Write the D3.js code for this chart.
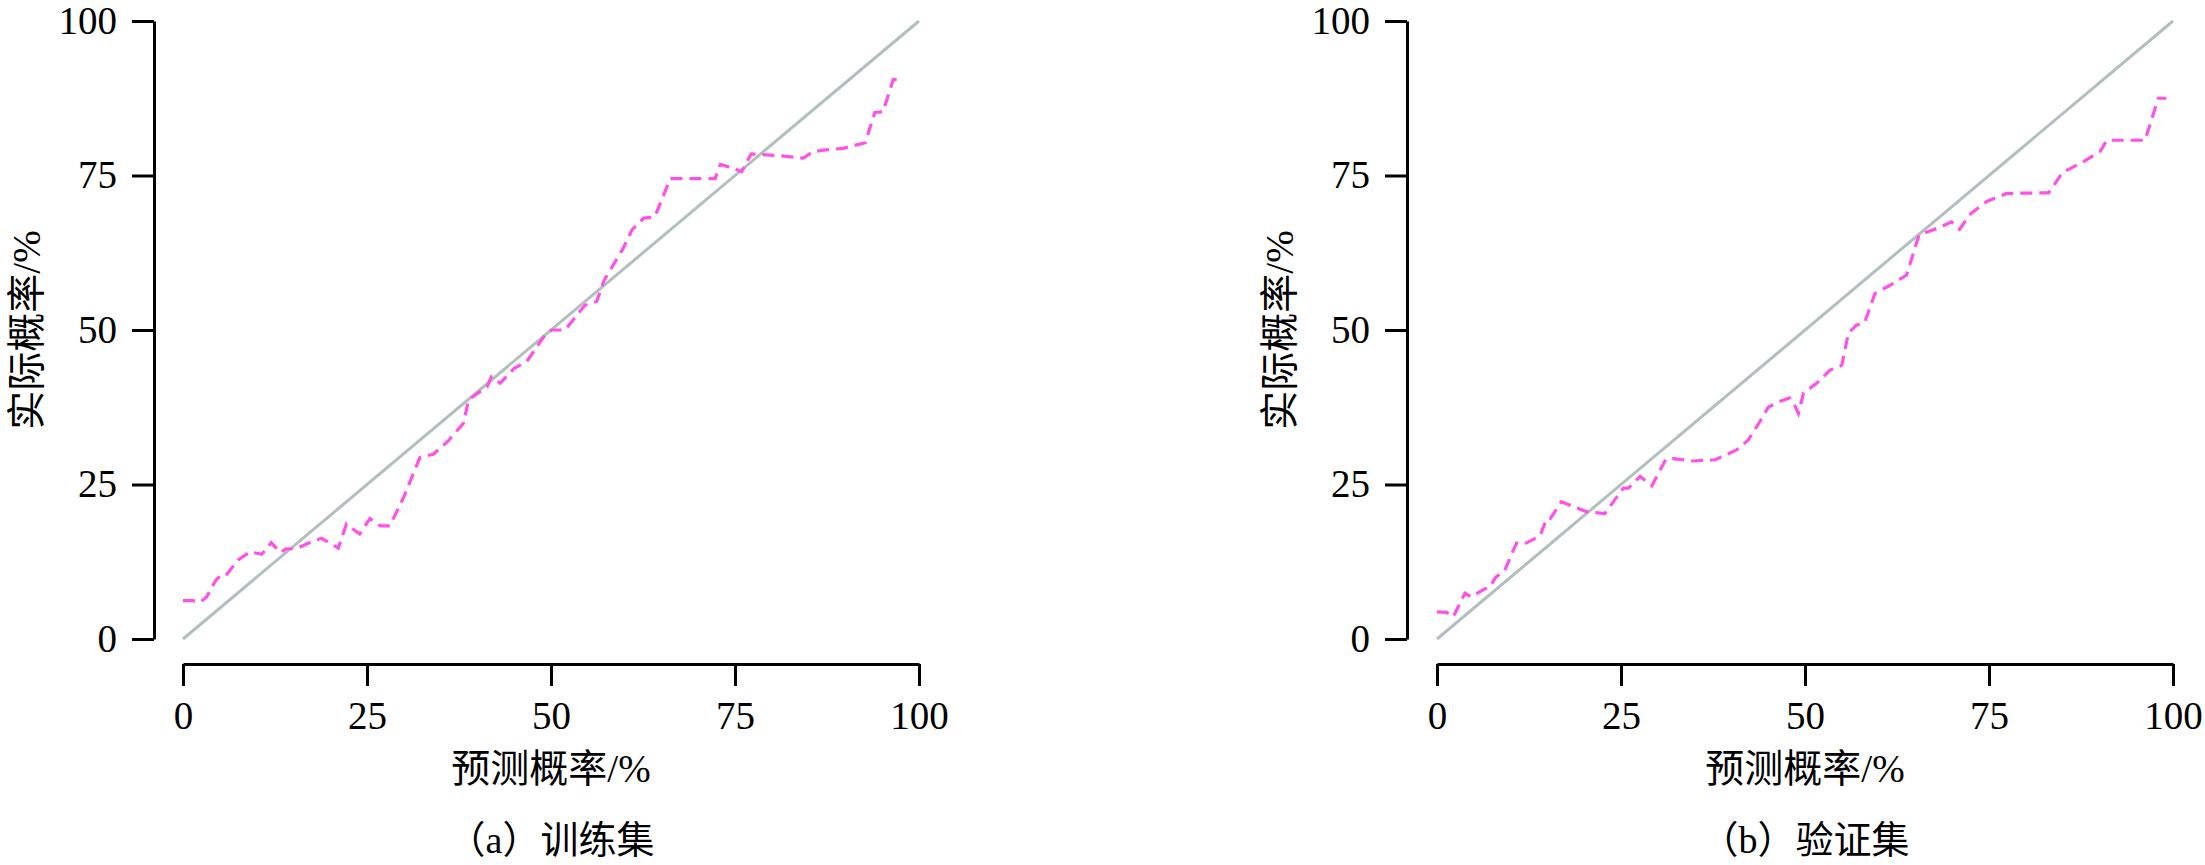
<!DOCTYPE html>
<html>
<head>
<meta charset="utf-8">
<script src="https://cdn.jsdelivr.net/npm/d3@7"></script>
<style>
  body { margin: 0; background: #fff; }
  text { font-family: "Liberation Serif", "Noto Sans CJK SC", serif; fill: #000; }
</style>
</head>
<body>
<svg id="chart" width="2205" height="865"></svg>
<script>
const ticks = [0, 25, 50, 75, 100];
const xTitle = "预测概率/%";
const yTitle = "实际概率/%";
const captions = ["（a）训练集", "（b）验证集"];

// training set calibration curve
const trainX = [0, 1.3, 2.4, 3.2, 4.5, 5.0, 5.7, 7.5, 9.1, 10.7, 12.0, 13.2, 14.0, 15.4, 17.0, 18.8, 20.0, 21.1,
  22.2, 24.0, 25.4, 26.8, 28.1, 30.0, 32.2, 34.0, 36.0, 38.1, 38.8, 40.1, 41.3, 41.9, 43.1, 45.0, 46.7, 49.2,
  50.1, 51.9, 54.6, 56.2, 57.2, 59.8, 61.0, 62.6, 64.1, 66.2, 72.3, 73.0, 74.5, 75.9, 77.2, 81.1, 84.3, 85.5,
  87.0, 89.7, 92.7, 94.0, 95.1, 96.5, 97.4];
const trainY = [6.2, 6.2, 6.0, 6.8, 9.6, 10.1, 10.1, 12.8, 14.1, 13.7, 15.6, 14.0, 14.6, 14.6, 15.5, 16.3, 15.5, 14.7,
  18.6, 17.0, 19.5, 18.3, 18.3, 23.0, 29.4, 29.9, 32.0, 34.9, 38.7, 39.8, 40.8, 42.4, 41.4, 43.8, 44.9, 49.2,
  50.0, 50.0, 54.0, 54.6, 58.0, 63.2, 66.2, 68.1, 68.3, 74.5, 74.5, 76.8, 76.3, 75.6, 78.5, 78.2, 77.8, 78.8,
  79.1, 79.4, 80.3, 85.2, 85.3, 90.5, 90.5];

// validation set calibration curve
const validX = [0, 1.3, 2.2, 3.8, 4.7, 6.0, 7.2, 8.0, 9.2, 10.8, 11.9, 14.0, 14.9, 15.4, 16.9, 20.3, 22.8, 25.3,
  26.0, 27.6, 29.2, 31.1, 32.1, 34.8, 37.8, 40.7, 42.3, 44.3, 45.0, 46.5, 47.9, 48.6, 49.1, 49.8, 51.6, 53.4,
  55.0, 55.9, 57.0, 58.1, 59.5, 61.5, 63.8, 65.5, 68.3, 69.9, 71.0, 72.5, 74.7, 77.4, 83.1, 85.0, 87.8, 90.1,
  91.0, 96.2, 98.0, 99.1];
const validY = [4.4, 4.3, 3.6, 7.4, 6.8, 7.8, 8.5, 10.0, 11.1, 15.5, 15.4, 16.7, 19.5, 19.5, 22.2, 20.6, 20.3, 24.4,
  24.4, 26.3, 24.8, 29.1, 29.2, 28.8, 29.0, 30.6, 32.2, 36.0, 37.5, 38.4, 39.0, 37.8, 36.5, 39.8, 41.4, 43.5,
  44.3, 49.5, 50.8, 51.2, 55.9, 57.2, 58.9, 65.4, 66.6, 67.5, 66.3, 68.8, 70.8, 72.1, 72.2, 75.5, 77.2, 78.9,
  80.7, 80.7, 87.5, 87.5];

const diag = [0, 100];

const panels = [
  { axisX: 154, x0: 183, x1: 919, xs: trainX, ys: trainY, caption: captions[0] },
  { axisX: 1407, x0: 1437, x1: 2173, xs: validX, ys: validY, caption: captions[1] }
];

const svg = d3.select("#chart");
const y = d3.scaleLinear().domain([0, 100]).range([639, 21]);
const xAxisY = 664;

panels.forEach(function (p) {
  const x = d3.scaleLinear().domain([0, 100]).range([p.x0, p.x1]);
  const g = svg.append("g");

  // y axis
  const ya = g.append("g")
    .attr("transform", "translate(" + p.axisX + ",0)")
    .call(d3.axisLeft(y).tickValues(ticks).tickSize(22).tickSizeOuter(0).tickPadding(15));
  // x axis
  const xa = g.append("g")
    .attr("transform", "translate(0," + xAxisY + ")")
    .call(d3.axisBottom(x).tickValues(ticks).tickSize(22).tickSizeOuter(0).tickPadding(15));

  [ya, xa].forEach(function (a) {
    a.selectAll("path, line").attr("stroke", "#000").attr("stroke-width", 3);
    a.selectAll("text").style("font-size", "39px").attr("fill", "#000");
  });

  // reference diagonal
  g.append("path")
    .datum(diag)
    .attr("fill", "none")
    .attr("stroke", "#b3bfbf")
    .attr("stroke-width", 3)
    .attr("d", d3.line().x(function (d) { return x(d); }).y(function (d) { return y(d); }));

  // calibration curve
  g.append("path")
    .datum(d3.range(p.xs.length))
    .attr("fill", "none")
    .attr("stroke", "#ff50e8")
    .attr("stroke-width", 3.2)
    .attr("stroke-dasharray", "12,7")
    .attr("d", d3.line().x(function (i) { return x(p.xs[i]); }).y(function (i) { return y(p.ys[i]); }));

  const cx = (p.x0 + p.x1) / 2;
  g.append("text")
    .attr("x", cx).attr("y", 782)
    .attr("text-anchor", "middle")
    .style("font-size", "39px")
    .text(xTitle);

  g.append("text")
    .attr("x", cx).attr("y", 853)
    .attr("text-anchor", "middle")
    .style("font-size", "38px")
    .text(p.caption);

  g.append("text")
    .attr("transform", "translate(" + (p.axisX - 114) + "," + y(50) + ")rotate(-90)")
    .attr("text-anchor", "middle")
    .style("font-size", "39px")
    .text(yTitle);
});
</script>
</body>
</html>
